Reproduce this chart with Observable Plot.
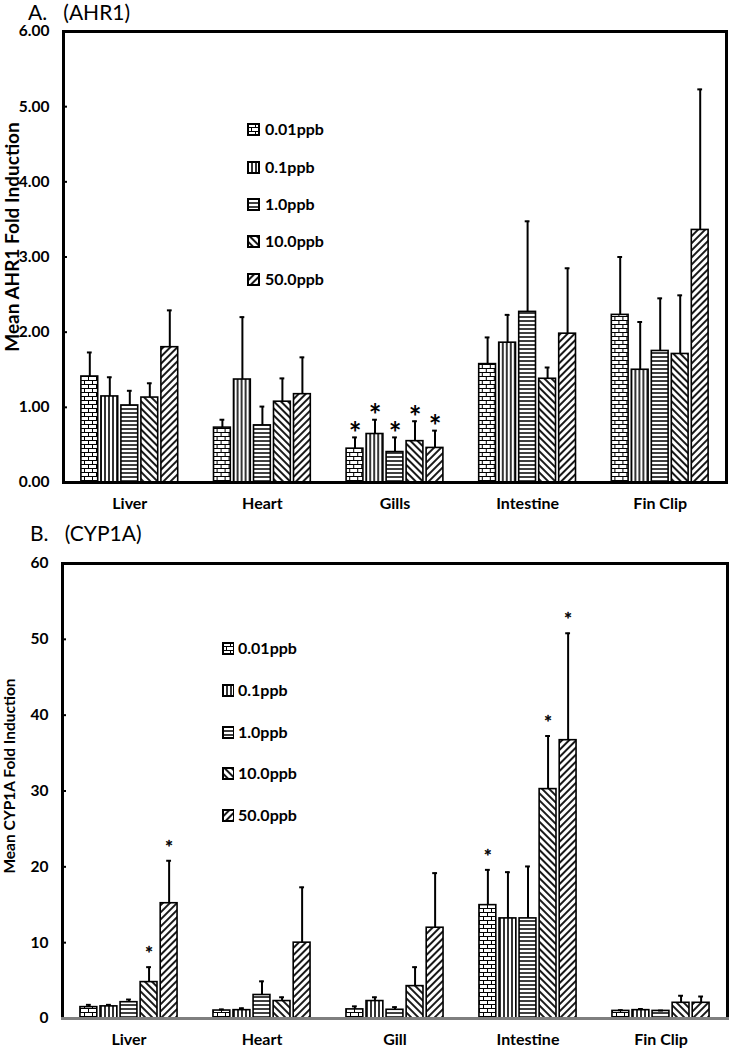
<!DOCTYPE html>
<html><head><meta charset="utf-8">
<script src="https://cdn.jsdelivr.net/npm/d3@7"></script>
<script src="https://cdn.jsdelivr.net/npm/@observablehq/plot@0.6"></script>
<style>
body{margin:0;background:#fff;}
#wrap{position:relative;width:729px;height:1050px;overflow:hidden;font-family:Lato,"Open Sans",sans-serif;color:#000;}
.panel{position:absolute;left:0;}
.title{position:absolute;font-size:21px;line-height:26px;font-weight:400;white-space:pre;}
.row{position:absolute;display:flex;align-items:center;font-weight:bold;font-size:16px;line-height:20px;white-space:nowrap;}
.row svg{margin-right:4px;}
</style></head>
<body>
<svg width="0" height="0" style="position:absolute">
<defs>
<pattern id="p0" patternUnits="userSpaceOnUse" width="8" height="8">
<rect width="8" height="8" fill="#fff"/>
<path d="M0,0.5H8M0,4.5H8M0.5,0.5V4.5M4.5,4.5V8.5" stroke="#000" stroke-width="1" fill="none"/>
</pattern>
<pattern id="p1" patternUnits="userSpaceOnUse" width="4" height="4">
<rect width="4" height="4" fill="#fff"/>
<path d="M1,0V4" stroke="#000" stroke-width="1.6"/>
</pattern>
<pattern id="p2" patternUnits="userSpaceOnUse" width="4" height="4">
<rect width="4" height="4" fill="#fff"/>
<path d="M0,1H4" stroke="#000" stroke-width="1.5"/>
</pattern>
<pattern id="p3" patternUnits="userSpaceOnUse" width="5" height="5" patternTransform="rotate(-45)">
<rect width="5" height="5" fill="#fff"/>
<path d="M1,0V5" stroke="#000" stroke-width="1.8"/>
</pattern>
<pattern id="p4" patternUnits="userSpaceOnUse" width="5" height="5" patternTransform="rotate(45)">
<rect width="5" height="5" fill="#fff"/>
<path d="M1,0V5" stroke="#000" stroke-width="1.8"/>
</pattern>
</defs>
</svg>
<div id="wrap"></div>
<script>
// ---- data ----
const doses = ["0.01ppb", "0.1ppb", "1.0ppb", "10.0ppb", "50.0ppb"];
const organsA = ["Liver", "Heart", "Gills", "Intestine", "Fin Clip"];
const organsB = ["Liver", "Heart", "Gill", "Intestine", "Fin Clip"];
const ticksA = [0, 1, 2, 3, 4, 5, 6];
const ticksB = [0, 10, 20, 30, 40, 50, 60];
// rows = organ, columns = dose
const ahr1Mean = [
  [1.41, 1.145, 1.025, 1.13, 1.80],
  [0.73, 1.37, 0.76, 1.075, 1.175],
  [0.45, 0.645, 0.405, 0.55, 0.46],
  [1.575, 1.86, 2.27, 1.38, 1.98],
  [2.23, 1.50, 1.75, 1.71, 3.36]
];
const ahr1SD = [
  [0.32, 0.255, 0.195, 0.19, 0.49],
  [0.105, 0.83, 0.25, 0.31, 0.49],
  [0.15, 0.19, 0.195, 0.265, 0.23],
  [0.355, 0.37, 1.205, 0.15, 0.87],
  [0.77, 0.635, 0.70, 0.78, 1.87]
];
const ahr1Sig = [
  [0, 0, 0, 0, 0],
  [0, 0, 0, 0, 0],
  [1, 1, 1, 1, 1],
  [0, 0, 0, 0, 0],
  [0, 0, 0, 0, 0]
];
const cypMean = [
  [1.5, 1.6, 2.15, 4.8, 15.2],
  [1.05, 1.1, 3.1, 2.3, 10.0],
  [1.2, 2.3, 1.15, 4.27, 11.97],
  [14.95, 13.2, 13.2, 30.25, 36.7],
  [1.0, 1.1, 1.0, 2.07, 2.07]
];
const cypSD = [
  [0.3, 0.2, 0.35, 1.97, 5.6],
  [0.15, 0.25, 1.8, 0.5, 7.3],
  [0.4, 0.5, 0.35, 2.5, 7.2],
  [4.65, 6.1, 6.85, 7.0, 14.1],
  [0.1, 0.15, 0.05, 0.93, 0.83]
];
const cypSig = [
  [0, 0, 0, 1, 1],
  [0, 0, 0, 0, 0],
  [0, 0, 0, 0, 0],
  [1, 0, 0, 1, 1],
  [0, 0, 0, 0, 0]
];

const patterns = ["url(#p0)", "url(#p1)", "url(#p2)", "url(#p3)", "url(#p4)"];
const FONT = "Lato, 'Open Sans', sans-serif";

function rows(organs, mean, sd, sig) {
  const out = [];
  organs.forEach((o, i) => doses.forEach((d, j) => out.push({
    organ: o, dose: d, j, mean: mean[i][j], sd: sd[i][j], top: mean[i][j] + sd[i][j], sig: !!sig[i][j]
  })));
  return out;
}

function panel(cfg) {
  const data = rows(cfg.organs, cfg.mean, cfg.sd, cfg.sig);
  const marks = [
    Plot.barY(data, {fx: "organ", x: "dose", y: "mean", fill: d => patterns[d.j], stroke: "#000", strokeWidth: 1.6}),
    Plot.ruleX(data, {fx: "organ", x: "dose", y1: "mean", y2: "top", stroke: "#000", strokeWidth: 2}),
    Plot.tickY(data, {fx: "organ", x: "dose", y: "top", stroke: "#000", strokeWidth: 2, insetLeft: 6, insetRight: 6}),
    Plot.text(data.filter(d => d.sig), {fx: "organ", x: "dose", y: "top", text: () => "*", fill: "#000", stroke: "#000", strokeWidth: cfg.starStroke, fontSize: cfg.starSize, fontWeight: cfg.starWeight, dy: cfg.starDy, lineAnchor: "middle"}),
    Plot.axisY({ticks: cfg.ticks, tickFormat: cfg.fmt, tickSize: 0, tickPadding: 14, fontSize: 15.5, label: null}),
    Plot.axisY({ticks: cfg.ticks, tickFormat: () => "", tickSize: 4, dx: 4, label: null, strokeWidth: 2}),
    Plot.axisFx({anchor: "bottom", tickSize: 0, tickPadding: 15, fontSize: 16, label: null}),
    Plot.text([cfg.ylabel], {facet: "super", frameAnchor: "left", text: d => d, rotate: -90, dx: cfg.labelDx, dy: cfg.labelDy,
      fontSize: cfg.labelSize, fontWeight: "bold", lineAnchor: "middle", textAnchor: "middle"}),
    Plot.frame({facet: "super", stroke: "#000", strokeWidth: 3})
  ];
  if (cfg.bottomColor) marks.push(Plot.frame({facet: "super", anchor: "bottom", stroke: cfg.bottomColor, strokeWidth: 3}));
  return Plot.plot({
    width: 729, height: cfg.height,
    marginTop: cfg.mt, marginBottom: cfg.mb, marginLeft: cfg.ml, marginRight: cfg.mr,
    style: {fontFamily: FONT, fontSize: "15px", fontWeight: "bold", color: "#000", background: "transparent", overflow: "visible"},
    fx: {domain: cfg.organs, paddingInner: 0, paddingOuter: 0, round: false, label: null},
    x: {domain: doses, paddingInner: 0.16, paddingOuter: 0.895, round: false, axis: null},
    y: {domain: cfg.domain, axis: null},
    color: {type: "identity"},
    marks
  });
}

function legend(parent, left, textLeft, ys) {
  doses.forEach((d, j) => {
    const row = document.createElement("div");
    row.className = "row";
    row.style.left = left + "px";
    row.style.top = (ys[j] - 10) + "px";
    row.innerHTML = `<svg width="${textLeft - left - 4}" height="13"><rect x="1" y="1" width="11" height="11" fill="${patterns[j]}" stroke="#000" stroke-width="2"/></svg><span>${d}</span>`;
    parent.appendChild(row);
  });
}

const wrap = document.getElementById("wrap");

const tA = document.createElement("div");
tA.className = "title"; tA.style.left = "28px"; tA.style.top = "-1px"; tA.textContent = "A.   (AHR1)";
const pA = panel({organs: organsA, mean: ahr1Mean, sd: ahr1SD, sig: ahr1Sig, domain: [0, 6], ticks: ticksA, fmt: d3.format(".2f"),
  ylabel: "Mean AHR1 Fold Induction", labelSize: 19, labelDx: -51, labelDy: -20, height: 520, mt: 31, mb: 38, ml: 63, mr: 3,
  starSize: 30, starWeight: "bold", starStroke: 0, starDy: -3});
pA.classList.add("panel"); pA.style.top = "0px";
wrap.appendChild(pA); wrap.appendChild(tA);
legend(wrap, 247, 265, [129, 167, 204, 241, 279]);

const tB = document.createElement("div");
tB.className = "title"; tB.style.left = "30px"; tB.style.top = "520px"; tB.textContent = "B.   (CYP1A)";
const pB = panel({organs: organsB, mean: cypMean, sd: cypSD, sig: cypSig, domain: [0, 60], ticks: ticksB, fmt: d3.format("d"),
  ylabel: "Mean CYP1A Fold Induction", labelSize: 15.5, labelDx: -52, labelDy: -15, height: 530, mt: 43, mb: 32, ml: 62, mr: 2,
  starSize: 19, starWeight: "normal", starStroke: 0.5, starDy: -13, bottomColor: "#7f7f7f"});
pB.classList.add("panel"); pB.style.top = "520px";
wrap.appendChild(pB); wrap.appendChild(tB);
legend(wrap, 222, 238, [648, 690, 732, 773, 815]);
</script>
</body></html>
